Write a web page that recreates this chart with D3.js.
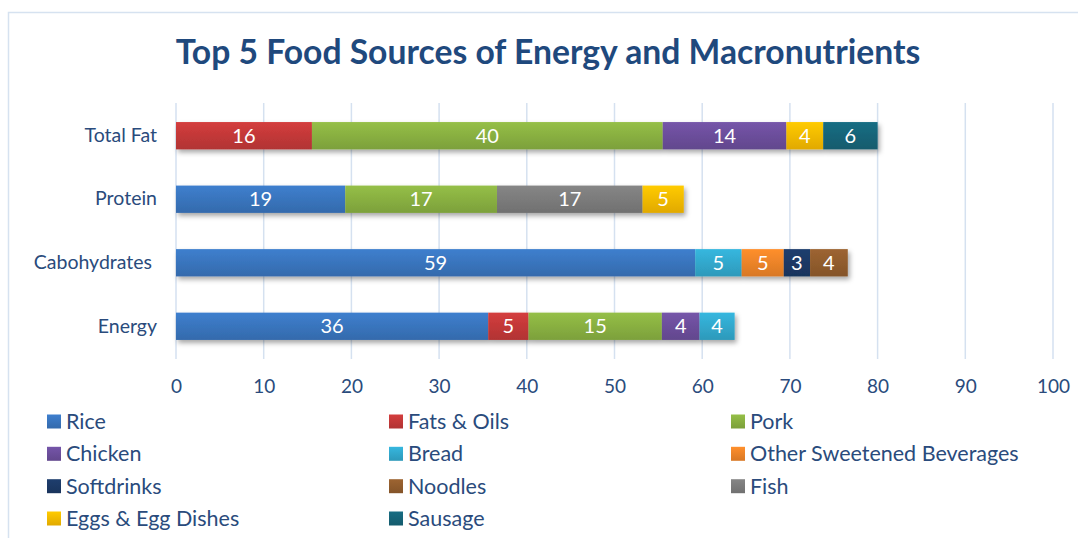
<!DOCTYPE html>
<html>
<head>
<meta charset="utf-8">
<script src="https://cdn.jsdelivr.net/npm/d3@7"></script>
<style>
  body { margin: 0; background: #fff; }
  svg { display: block; font-family: Lato, "Open Sans", sans-serif; }
</style>
</head>
<body>
<div id="chart"></div>
<script>
// Chart data
const categories = ["Total Fat", "Protein", "Cabohydrates", "Energy"];
const seriesNames = ["Rice", "Fats & Oils", "Pork", "Chicken", "Bread",
    "Other Sweetened Beverages", "Softdrinks", "Noodles", "Fish",
    "Eggs & Egg Dishes", "Sausage"];
const seriesColors = ["#3b78c3", "#c93a3a", "#8db543", "#6f51a0", "#33add3",
    "#f5882a", "#1c3b68", "#955f2e", "#7f7f7f", "#ffc000", "#17677c"];

// values per series, in the order of categories
const rice       = [0,    19.3, 59.2, 35.6];
const fatsOils   = [15.5, 0,    0,    4.6];
const pork       = [40.0, 17.3, 0,    15.2];
const chicken    = [14.1, 0,    0,    4.3];
const bread      = [0,    0,    5.3,  4.0];
const otherSweet = [0,    0,    4.8,  0];
const softdrinks = [0,    0,    3.0,  0];
const noodles    = [0,    0,    4.3,  0];
const fish       = [0,    16.6, 0,    0];
const eggs       = [4.2,  4.7,  0,    0];
const sausage    = [6.2,  0,    0,    0];
const xTicks = [0, 10, 20, 30, 40, 50, 60, 70, 80, 90, 100];

const seriesValues = [rice, fatsOils, pork, chicken, bread, otherSweet,
    softdrinks, noodles, fish, eggs, sausage];

// table for d3.stack
const rows = categories.map((c, i) => {
    const row = { category: c };
    seriesNames.forEach((s, j) => row[s] = seriesValues[j][i]);
    return row;
});

const width = 1078, height = 538;
const plot = { left: 176, right: 1053, top: 103, bottom: 359 };
const textColor = "#2a4b7c";
const titleColor = "#1f497d";

const svg = d3.select("#chart").append("svg")
    .attr("width", width)
    .attr("height", height);

// chart frame
svg.append("rect")
    .attr("x", 8.5).attr("y", 12.5)
    .attr("width", width + 10).attr("height", height + 10)
    .attr("fill", "#fff")
    .attr("stroke", "#d6e2f0")
    .attr("stroke-width", 1.5);

const defs = svg.append("defs");
seriesColors.forEach((c, i) => {
    const g = defs.append("linearGradient")
        .attr("id", "grad" + i)
        .attr("x1", 0).attr("y1", 0).attr("x2", 0).attr("y2", 1);
    g.append("stop").attr("offset", "0%").attr("stop-color", d3.color(c).brighter(0.15));
    g.append("stop").attr("offset", "100%").attr("stop-color", d3.color(c).darker(0.35));
});
const shadow = defs.append("filter").attr("id", "shadow")
    .attr("x", "-5%").attr("y", "-30%").attr("width", "115%").attr("height", "180%");
shadow.append("feDropShadow")
    .attr("dx", 2).attr("dy", 3).attr("stdDeviation", 2.5)
    .attr("flood-color", "#000").attr("flood-opacity", 0.35);

// title
const title = svg.append("text")
    .attr("x", 548).attr("y", 64)
    .attr("text-anchor", "middle")
    .attr("fill", titleColor)
    .style("font-weight", "bold")
    .style("font-size", "30px")
    .text("Top 5 Food Sources of Energy and Macronutrients");
// fit title to the reference width
const tw = title.node().getComputedTextLength();
title.style("font-size", (30 * 745 / tw) + "px");

const x = d3.scaleLinear()
    .domain([0, 100])
    .range([plot.left, plot.right]);

const y = d3.scaleBand()
    .domain(categories)
    .range([plot.top, plot.bottom])
    .paddingInner(0.57)
    .paddingOuter(0.3);

// gridlines
svg.append("g")
    .selectAll("line")
    .data(xTicks)
    .join("line")
    .attr("x1", d => x(d)).attr("x2", d => x(d))
    .attr("y1", plot.top).attr("y2", plot.bottom)
    .attr("stroke", "#d5e1f0")
    .attr("stroke-width", 1.5);

// x axis labels
const xAxis = g => g
    .attr("transform", `translate(0,${plot.bottom})`)
    .call(d3.axisBottom(x).tickValues(xTicks).tickSize(0).tickPadding(21))
    .call(g => g.select(".domain").remove())
    .call(g => g.selectAll("text")
        .attr("fill", textColor)
        .style("font-size", "19px")
        .style("font-family", "Lato, sans-serif"));
svg.append("g").call(xAxis);

// y axis labels
const yAxis = g => g
    .attr("transform", `translate(${plot.left - 19},0)`)
    .call(d3.axisLeft(y).tickSize(0).tickPadding(0))
    .call(g => g.select(".domain").remove())
    .call(g => g.selectAll("text")
        .attr("fill", textColor)
        .attr("dx", d => d === "Cabohydrates" ? -5 : 0)
        .style("font-size", "19.5px")
        .style("font-family", "Lato, sans-serif"));
svg.append("g").call(yAxis);

// stacked bars
const stacked = d3.stack().keys(seriesNames)(rows);

const barGroups = svg.append("g").selectAll("g.bar")
    .data(categories)
    .join("g")
    .attr("class", "bar")
    .attr("filter", "url(#shadow)");

barGroups.each(function (cat, ci) {
    const g = d3.select(this);
    stacked.forEach((layer, si) => {
        const d = layer[ci];
        if (d[1] - d[0] <= 0) return;
        g.append("rect")
            .attr("x", x(d[0]))
            .attr("y", y(cat))
            .attr("width", x(d[1]) - x(d[0]))
            .attr("height", y.bandwidth())
            .attr("fill", `url(#grad${si})`);
    });
});

// value labels
const labels = svg.append("g");
stacked.forEach((layer, si) => {
    layer.forEach((d, ci) => {
        const v = d[1] - d[0];
        if (v <= 0) return;
        labels.append("text")
            .attr("x", x((d[0] + d[1]) / 2))
            .attr("y", y(categories[ci]) + y.bandwidth() / 2)
            .attr("dy", "0.36em")
            .attr("text-anchor", "middle")
            .attr("fill", "#fff")
            .style("font-size", "20px")
            .text(Math.round(v));
    });
});

// legend
const legendCols = [47, 389, 731];
const legendRows = [421.5, 453.8, 486.2, 518.5];
const legend = svg.append("g").selectAll("g")
    .data(seriesNames)
    .join("g")
    .attr("transform", (d, i) =>
        `translate(${legendCols[i % 3]},${legendRows[Math.floor(i / 3)]})`);

legend.append("rect")
    .attr("x", 0).attr("y", -7)
    .attr("width", 14).attr("height", 14)
    .attr("fill", (d, i) => `url(#grad${i})`);

legend.append("text")
    .attr("x", 19)
    .attr("dy", "0.35em")
    .attr("fill", textColor)
    .style("font-size", "21.5px")
    .text(d => d);
</script>
</body>
</html>
